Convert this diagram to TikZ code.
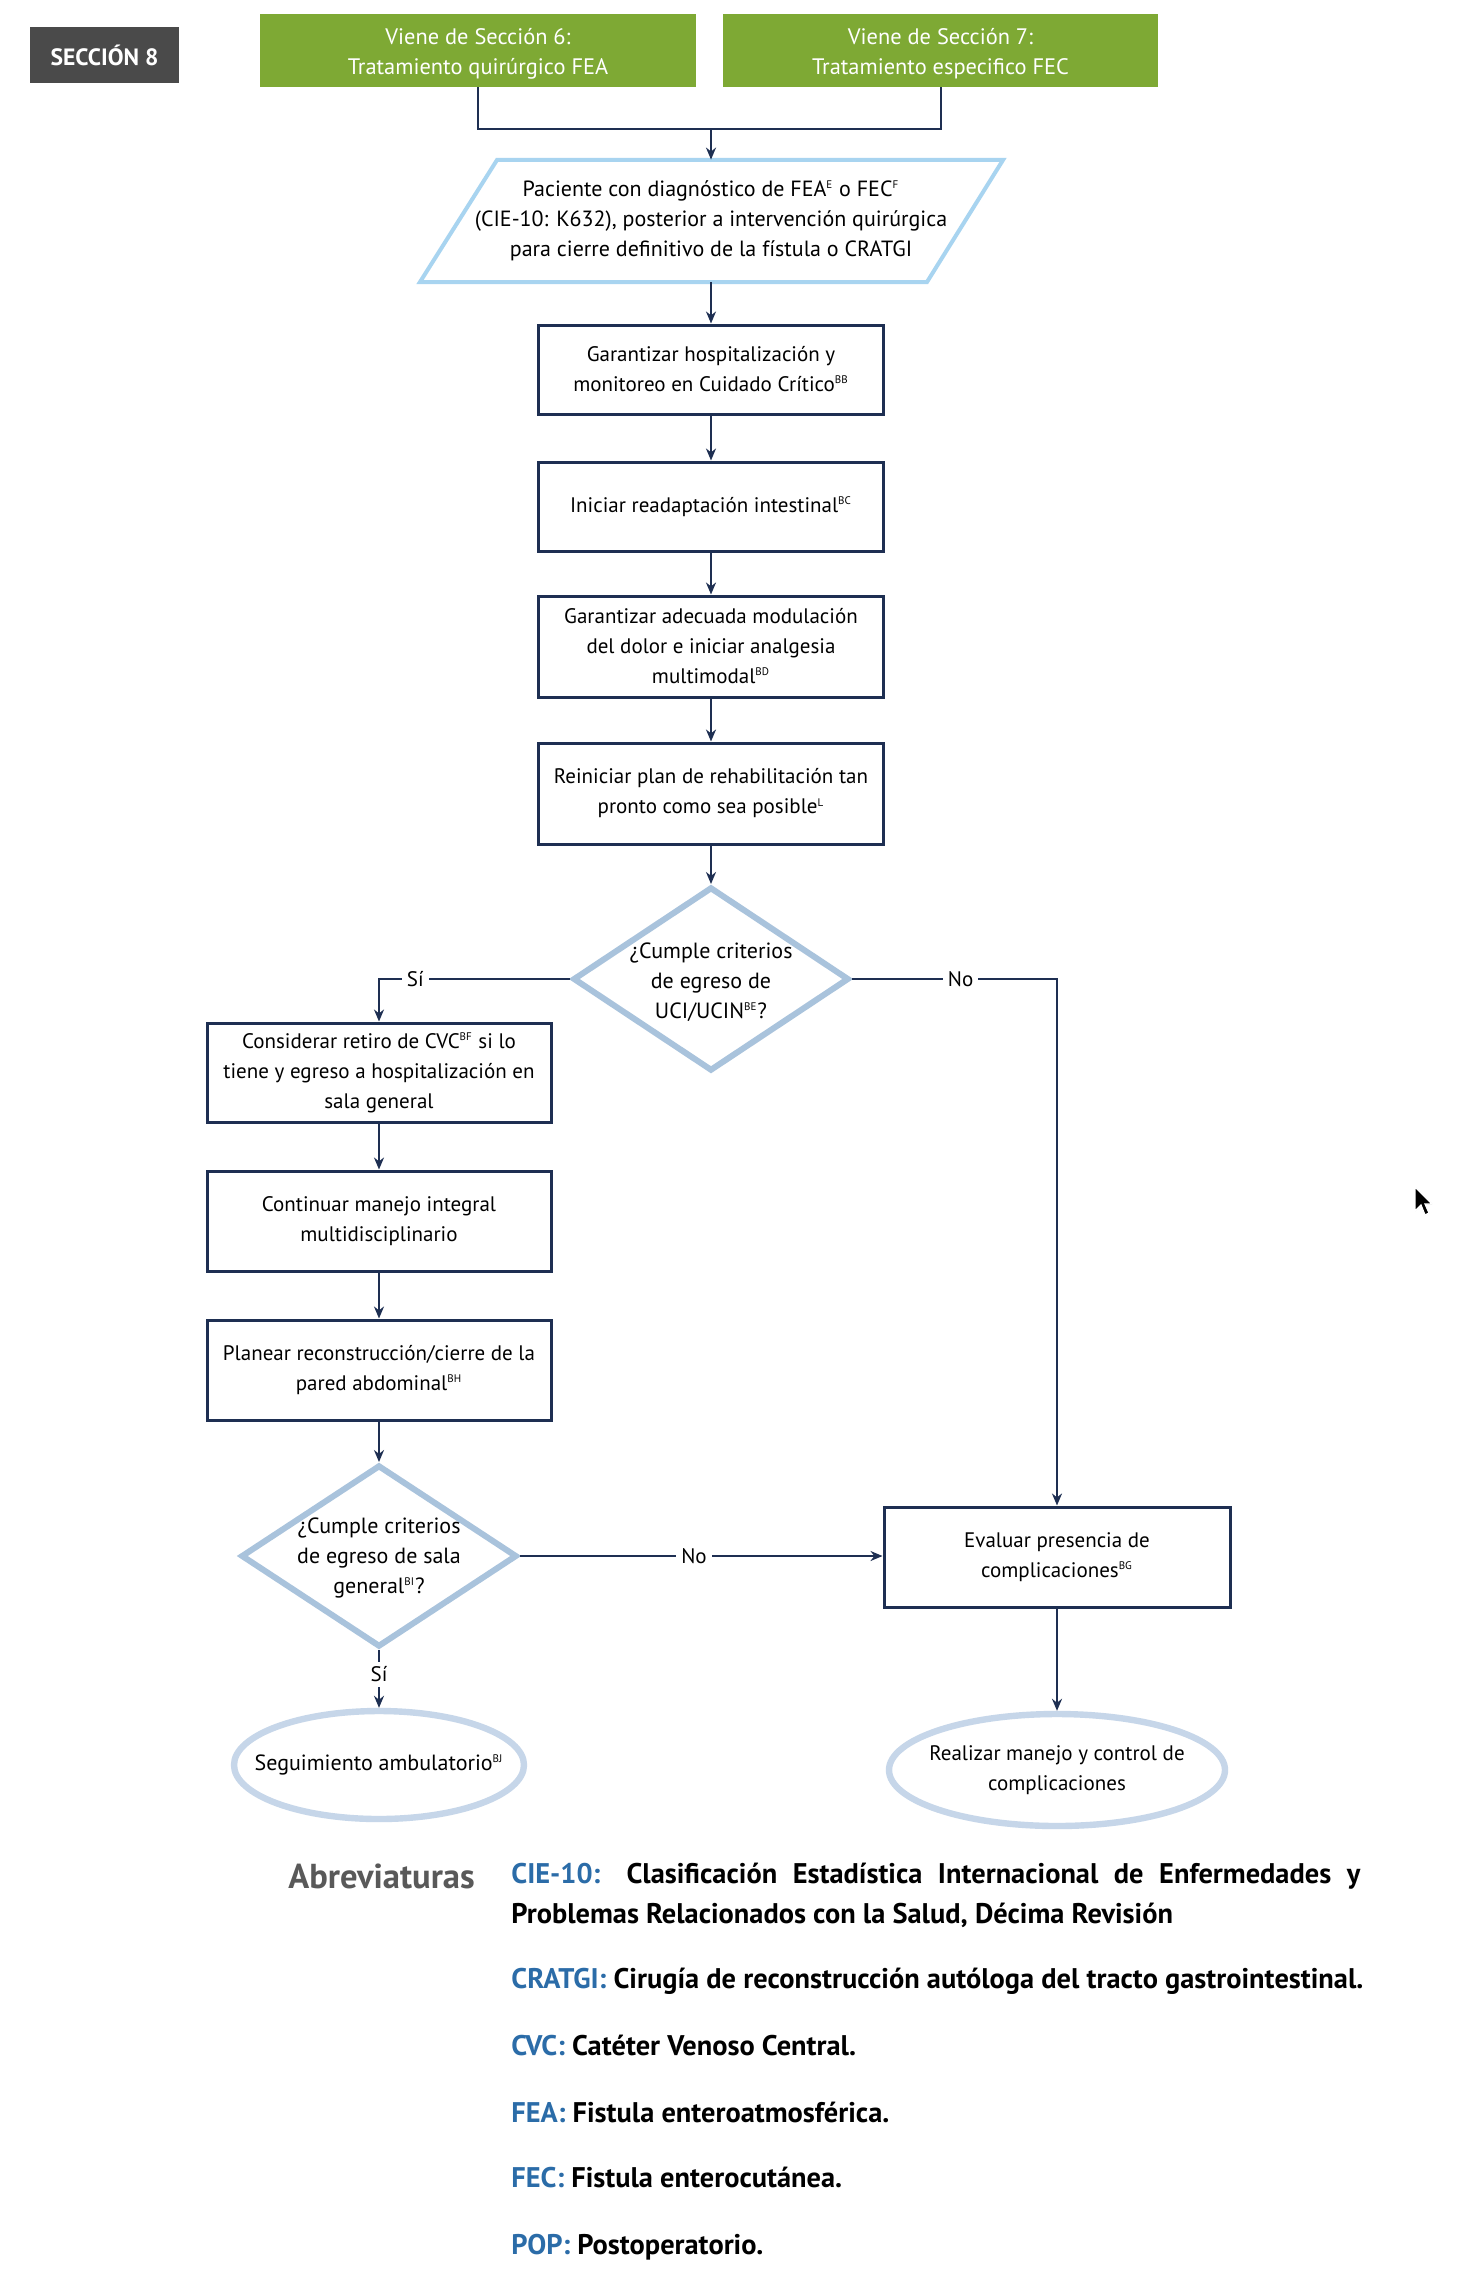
\documentclass[tikz,border=0pt]{standalone}
\usepackage{fontspec}
\setmainfont{PT Sans}
\usetikzlibrary{shapes.geometric,arrows.meta}
\definecolor{navy}{HTML}{1E2F52}
\definecolor{greenb}{HTML}{7EA934}
\definecolor{secgray}{HTML}{4A4A4A}
\definecolor{diablue}{HTML}{A9C3DC}
\definecolor{parablue}{HTML}{A8D4F0}
\definecolor{ellblue}{HTML}{C6D6E9}
\definecolor{abbblue}{HTML}{2B6CA8}
\definecolor{abbgray}{HTML}{595959}
\newcommand\sx[1]{\textsuperscript{\fontsize{5.5}{6}\selectfont #1}}
\tikzset{
  boxtxt/.style={align=center, font=\fontsize{10.5}{15}\selectfont, inner sep=0pt},
  bigtxt/.style={align=center, font=\fontsize{11}{15}\selectfont, inner sep=0pt},
  stepbox/.style={boxtxt, draw=navy, line width=1.5pt},
  greenbox/.style={fill=greenb, inner sep=0pt},
  greentxt/.style={align=center, text=white, font=\fontsize{11.2}{15}\selectfont, inner sep=0pt},
  secbox/.style={fill=secgray, text=white, font=\bfseries\fontsize{11.8}{13}\selectfont, inner sep=0pt},
  dia/.style={diamond, draw=diablue, line width=3pt, inner sep=0pt},
  ell/.style={ellipse, draw=ellblue, line width=3.2pt, inner sep=0pt},
  conn/.style={draw=navy, line width=1pt, -{Stealth[length=6pt,width=5pt]}},
  plain/.style={draw=navy, line width=1pt},
  lbl/.style={fill=white, inner sep=2.5pt, font=\fontsize{10.5}{12}\selectfont},
  abb/.style={anchor=base west, inner sep=0pt, font=\bfseries\fontsize{14.2}{16}\selectfont},
}
\begin{document}
\begin{tikzpicture}[x=0.5pt,y=-0.5pt]
\fill[white] (0,0) rectangle (1476,2274);
\useasboundingbox (0,0) rectangle (1476,2274);

\node[secbox, minimum width=74.5pt, minimum height=28pt] (sec) at (104.5,55) {SECCIÓN 8};
\node[greenbox, minimum width=218pt, minimum height=36.5pt] (g1) at (478,50.5) {};
\node[greentxt] (g1t) at ([yshift=-1.5pt]g1.center) {Viene de Sección 6:\\Tratamiento quirúrgico FEA};
\node[greenbox, minimum width=217.5pt, minimum height=36.5pt] (g2) at (940.5,50.5) {};
\node[greentxt] (g2t) at ([yshift=-1.5pt]g2.center) {Viene de Sección 7:\\Tratamiento especifico FEC};
\coordinate (m) at (711,129);
\draw[plain] (g1.south) |- (m);
\draw[plain] (g2.south) |- (m);

\node[bigtxt, minimum width=250pt, minimum height=61pt] (para) at (711,221) {Paciente con diagnóstico de FEA\sx{E} o FEC\sx{F}\\(CIE-10: K632), posterior a intervención quirúrgica\\para cierre definitivo de la fístula o CRATGI};
\draw[parablue, line width=2pt] (497,160) -- (1003,160) -- (927,282) -- (420,282) -- cycle;
\draw[conn] (m) -- (para.north);

\node[stepbox, minimum width=172.5pt, minimum height=44.5pt] (b1) at (711,369.5) {Garantizar hospitalización y\\monitoreo en Cuidado Crítico\sx{BB}};
\node[stepbox, minimum width=172.5pt, minimum height=44.5pt] (b2) at (711,506.5) {Iniciar readaptación intestinal\sx{BC}};
\node[stepbox, minimum width=172.5pt, minimum height=50.5pt] (b3) at (711,646.5) {Garantizar adecuada modulación\\del dolor e iniciar analgesia\\multimodal\sx{BD}};
\node[stepbox, minimum width=172.5pt, minimum height=50.5pt] (b4) at (711,793.5) {Reiniciar plan de rehabilitación tan\\pronto como sea posible\sx{L}};
\draw[conn] (para.south) -- (b1.north);
\draw[conn] (b1.south) -- (b2.north);
\draw[conn] (b2.south) -- (b3.north);
\draw[conn] (b3.south) -- (b4.north);

\node[dia, minimum width=138pt, minimum height=92pt] (d1) at (711,979) {};
\node[bigtxt] (d1t) at ([yshift=-1.5pt]d1.center) {¿Cumple criterios\\de egreso de\\UCI/UCIN\sx{BE}?};
\draw[conn] (b4.south) -- (d1.north);

\node[stepbox, minimum width=172pt, minimum height=49.5pt] (c1) at (379,1072.5) {Considerar retiro de CVC\sx{BF} si lo\\tiene y egreso a hospitalización en\\sala general};
\node[stepbox, minimum width=172pt, minimum height=50pt] (c2) at (379,1221) {Continuar manejo integral\\multidisciplinario};
\node[stepbox, minimum width=172pt, minimum height=50pt] (c3) at (379,1370) {Planear reconstrucción/cierre de la\\pared abdominal\sx{BH}};
\node[dia, minimum width=138pt, minimum height=91pt] (d2) at (379,1556) {};
\node[bigtxt] (d2t) at ([yshift=-1pt]d2.center) {¿Cumple criterios\\de egreso de sala\\general\sx{BI}?};
\node[stepbox, minimum width=173pt, minimum height=50pt] (e1) at (1057,1557) {Evaluar presencia de\\complicaciones\sx{BG}};
\node[ell, minimum width=145pt, minimum height=54pt] (s1) at (379,1765) {};
\node[bigtxt] (s1t) at (s1) {Seguimiento ambulatorio\sx{BJ}};
\node[ell, minimum width=168pt, minimum height=56pt] (r1) at (1057,1770) {};
\node[boxtxt] (r1t) at (r1) {Realizar manejo y control de\\complicaciones};

\draw[conn] (d1.west) -- node[lbl,pos=0.81]{Sí} (d1.west -| c1.north) -- (c1.north);
\draw[conn] (d1.east) -- node[lbl,pos=0.53]{No} (d1.east -| e1.north) -- (e1.north);
\draw[conn] (c1.south) -- (c2.north);
\draw[conn] (c2.south) -- (c3.north);
\draw[conn] (c3.south) -- (d2.north);
\draw[conn] (d2.east) -- node[lbl,pos=0.48]{No} (d2.east -| e1.west);
\draw[conn] (d2.south) -- node[lbl,pos=0.42]{Sí} (d2.south |- s1.north);
\draw[conn] (e1.south) -- (r1.north);

\node[anchor=base west, inner sep=0pt, text=abbgray, font=\bfseries\fontsize{17.3}{19}\selectfont] (abr) at (288,1888) {Abreviaturas};
\node[abb] (a1) at (511,1883) {\makebox[424.5pt][s]{\textcolor{abbblue}{CIE-10:} Clasificación Estadística Internacional de Enfermedades y}};
\node[abb] (a1b) at (511,1923) {Problemas Relacionados con la Salud, Décima Revisión};
\node[abb] (a2) at (511,1988) {\textcolor{abbblue}{CRATGI:} Cirugía de reconstrucción autóloga del tracto gastrointestinal.};
\node[abb] (a3) at (511,2055) {\textcolor{abbblue}{CVC:} Catéter Venoso Central.};
\node[abb] (a4) at (511,2122) {\textcolor{abbblue}{FEA:} Fistula enteroatmosférica.};
\node[abb] (a5) at (511,2187) {\textcolor{abbblue}{FEC:} Fistula enterocutánea.};
\node[abb] (a6) at (511,2254) {\textcolor{abbblue}{POP:} Postoperatorio.};

\filldraw[fill=black, draw=white, line width=0.6pt] (1415,1187) -- (1415,1211) -- (1421,1205) -- (1425,1215) -- (1429,1213) -- (1425,1204) -- (1432,1204) -- cycle;
\end{tikzpicture}
\end{document}
